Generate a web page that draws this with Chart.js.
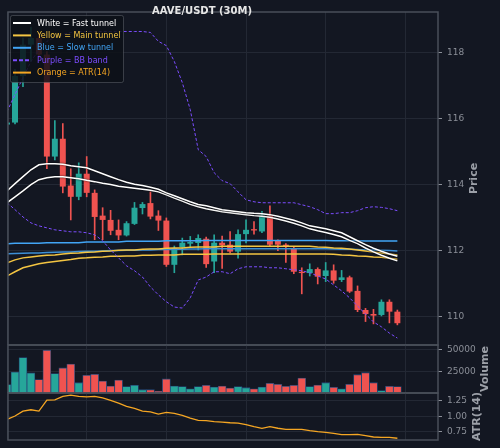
<!DOCTYPE html>
<html>
<head>
<meta charset="utf-8">
<script src="https://cdn.jsdelivr.net/npm/chart.js@4.4.0/dist/chart.umd.min.js"></script>
<style>
  html, body { margin: 0; padding: 0; background: #131722; }
  #wrap { position: relative; width: 500px; height: 448px; overflow: hidden; }
  canvas { position: absolute; left: 0; }
</style>
</head>
<body>
<div id="wrap">
  <canvas id="priceChart" width="500" height="357" style="top:0"></canvas>
  <canvas id="volumeChart" width="500" height="72" style="top:333px"></canvas>
  <canvas id="atrChart" width="500" height="71" style="top:381px"></canvas>
</div>
<script>
// candles (30 minute bars)
const opens = [115.83,115.89,117.30,118.25,118.45,117.95,114.86,115.40,113.98,113.64,
  114.34,113.76,113.07,112.94,112.64,112.47,112.82,113.30,113.45,113.07,
  112.92,111.58,112.11,112.22,112.24,112.37,111.68,112.25,112.19,111.98,
  112.51,112.66,112.59,113.07,112.31,112.19,112.09,111.37,111.33,111.45,
  111.24,111.41,111.12,111.20,110.79,110.21,110.09,110.06,110.46,110.16];
const highs = [115.93,117.50,118.45,118.78,118.60,118.04,115.95,115.86,114.49,114.67,
  114.86,113.85,113.31,113.23,112.94,112.89,113.47,113.47,113.79,113.22,
  113.00,112.15,112.39,112.44,112.49,112.42,112.49,112.45,112.59,112.64,
  112.94,112.89,113.20,113.37,112.34,112.22,112.12,111.49,111.61,111.49,
  111.65,111.58,111.41,111.24,110.94,110.26,110.23,110.52,110.52,110.21];
const lows = [115.78,115.85,116.98,117.75,117.85,114.49,114.76,113.76,112.94,113.55,
  113.64,112.34,112.34,112.49,112.34,112.45,112.80,113.12,112.97,112.62,
  111.53,111.34,111.88,112.13,112.03,111.50,111.34,111.47,111.94,111.78,
  112.24,112.51,112.55,112.15,112.01,111.65,111.31,110.70,111.24,111.00,
  111.07,111.02,111.07,110.74,110.16,109.86,109.79,110.03,109.82,109.76];
const closes = [115.89,117.30,118.25,118.45,117.95,114.86,115.40,113.95,113.64,114.34,
  113.76,113.03,112.94,112.61,112.47,112.84,113.31,113.42,113.04,112.92,
  111.58,112.09,112.25,112.27,112.39,111.60,112.25,112.17,111.98,112.51,
  112.64,112.62,113.07,112.19,112.19,112.12,111.37,111.33,111.45,111.22,
  111.41,111.10,111.20,110.77,110.21,110.09,110.04,110.46,110.16,109.81];
const volumes = [9600,24000,40500,23000,15300,48900,22200,28700,33200,11800,
  20200,21400,13800,8000,14900,7300,8800,3800,3800,2300,
  16100,8000,7300,4900,7300,8800,6900,8000,5700,7300,
  6100,4900,6900,11000,10000,7700,8800,17200,7300,9200,
  11800,6500,4900,10000,21000,23300,11800,2700,7700,7300];
const atr = [0.952,1.005,1.084,1.105,1.084,1.26,1.264,1.32,1.34,1.318,
  1.31,1.32,1.296,1.255,1.212,1.16,1.127,1.084,1.073,1.037,
  1.063,1.047,1.015,0.973,0.936,0.93,0.914,0.909,0.898,0.893,
  0.866,0.835,0.809,0.835,0.81,0.793,0.793,0.793,0.771,0.755,
  0.745,0.729,0.707,0.707,0.713,0.691,0.67,0.665,0.665,0.65];

// tunnels and bands
const fastHigh = [113.82,114.04,114.25,114.46,114.61,114.64,114.64,114.63,114.58,114.55,
  114.52,114.43,114.34,114.25,114.16,114.08,114.02,113.98,113.93,113.87,
  113.76,113.67,113.58,113.49,113.41,113.37,113.31,113.25,113.22,113.19,
  113.16,113.14,113.13,113.10,113.05,112.99,112.93,112.85,112.76,112.72,
  112.67,112.61,112.55,112.43,112.31,112.19,112.08,111.99,111.91,111.84];
const fastLow = [113.46,113.64,113.82,114.01,114.16,114.22,114.25,114.25,114.22,114.19,
  114.14,114.10,114.05,114.01,113.96,113.93,113.90,113.87,113.84,113.79,
  113.70,113.60,113.51,113.41,113.34,113.28,113.23,113.19,113.16,113.13,
  113.10,113.07,113.05,113.02,112.97,112.91,112.84,112.76,112.67,112.61,
  112.56,112.50,112.43,112.32,112.22,112.09,111.97,111.87,111.78,111.70];
const mainHigh = [111.64,111.73,111.79,111.82,111.85,111.87,111.88,111.91,111.93,111.94,
  111.96,111.97,111.99,112.00,112.02,112.03,112.03,112.05,112.06,112.06,
  112.08,112.09,112.09,112.11,112.12,112.12,112.12,112.14,112.14,112.14,
  112.14,112.14,112.14,112.14,112.14,112.14,112.14,112.14,112.14,112.12,
  112.11,112.09,112.08,112.06,112.03,112.00,111.97,111.94,111.91,111.88];
const mainLow = [111.24,111.37,111.49,111.55,111.61,111.65,111.68,111.71,111.74,111.78,
  111.79,111.81,111.82,111.84,111.84,111.85,111.85,111.87,111.87,111.88,
  111.88,111.88,111.90,111.90,111.90,111.90,111.91,111.91,111.91,111.91,
  111.91,111.91,111.91,111.91,111.91,111.91,111.91,111.91,111.91,111.91,
  111.91,111.90,111.88,111.87,111.85,111.84,111.82,111.81,111.78,111.75];
const slowHigh = [112.22,112.23,112.23,112.23,112.23,112.25,112.25,112.25,112.25,112.25,
  112.27,112.27,112.27,112.27,112.27,112.29,112.29,112.29,112.29,112.29,
  112.31,112.31,112.31,112.31,112.31,112.32,112.32,112.32,112.32,112.32,
  112.32,112.32,112.32,112.32,112.32,112.32,112.32,112.32,112.32,112.32,
  112.32,112.31,112.31,112.31,112.31,112.30,112.30,112.30,112.30,112.30];
const slowLow = [111.91,111.92,111.93,111.94,111.94,111.95,111.96,111.97,111.97,111.98,
  111.99,111.99,112.00,112.01,112.01,112.02,112.02,112.03,112.03,112.04,
  112.04,112.05,112.05,112.06,112.06,112.07,112.07,112.07,112.07,112.07,
  112.07,112.07,112.07,112.07,112.07,112.07,112.07,112.07,112.07,112.07,
  112.07,112.06,112.05,112.05,112.04,112.03,112.03,112.02,112.01,112.00];
const bbUpper = [116.22,116.74,117.25,117.74,118.10,118.35,118.47,118.56,118.62,118.65,
  118.65,118.65,118.65,118.65,118.65,118.65,118.65,118.65,118.62,118.35,
  118.22,117.74,117.10,116.28,115.07,114.86,114.37,114.13,114.04,113.79,
  113.55,113.49,113.46,113.46,113.46,113.46,113.46,113.40,113.34,113.25,
  113.13,113.13,113.16,113.16,113.22,113.31,113.34,113.32,113.28,113.22];
const bbLower = [113.46,113.25,113.03,112.85,112.76,112.70,112.64,112.61,112.58,112.58,
  112.55,112.49,112.31,112.03,111.79,111.55,111.40,111.21,110.91,110.67,
  110.46,110.30,110.27,110.58,111.12,111.21,111.37,111.37,111.31,111.46,
  111.52,111.52,111.52,111.49,111.49,111.46,111.43,111.40,111.34,111.24,
  111.15,110.97,110.79,110.58,110.33,110.09,109.85,109.70,109.51,109.36];

// axis ticks
const xGrid = [0, 10, 20, 30, 40, 50];
const priceTicks = [110, 112, 114, 116, 118];
const volumeTicks = [25000, 50000];
const atrTicks = [0.75, 1.00, 1.25];

const titleText = 'AAVE/USDT (30M)';
const legendItems = [
  { text: 'White = Fast tunnel', color: '#ffffff', dash: [] },
  { text: 'Yellow = Main tunnel', color: '#f4c542', dash: [] },
  { text: 'Blue = Slow tunnel', color: '#42a5f5', dash: [] },
  { text: 'Purple = BB band', color: '#7c4dff', dash: [4, 2] },
  { text: 'Orange = ATR(14)', color: '#f5a623', dash: [] }
];

const up = '#26a69a', down = '#ef5350';
const gridColor = '#232834';
const frameColor = '#4a4f5a';
const tickColor = '#8b8f98';
const FONT = 'DejaVu Sans';

const idx = closes.map((_, i) => i);
const pts = arr => arr.map((v, i) => ({ x: i, y: v }));
const candleColors = idx.map(i => closes[i] >= opens[i] ? up : down);

// shared x axis
function xAxis() {
  return {
    type: 'linear', min: 0.12, max: 54.1, offset: false,
    afterBuildTicks: s => { s.ticks = xGrid.map(v => ({ value: v })); },
    afterFit: s => { s.height = 0; },
    ticks: { display: false },
    grid: { color: gridColor, drawTicks: false, offset: false },
    border: { display: false }
  };
}
function yAxis(min, max, ticks, fmt) {
  return {
    position: 'right', min: min, max: max,
    afterBuildTicks: s => { s.ticks = ticks.map(v => ({ value: v })); },
    afterFit: s => { s.width = 62; },
    ticks: { color: tickColor, font: { family: FONT, size: 9 }, padding: 5, callback: fmt },
    grid: { color: gridColor, tickColor: tickColor, tickLength: 4 },
    border: { display: false }
  };
}

const framePlugin = {
  id: 'frame',
  afterDraw(chart, args, opts) {
    const { ctx, chartArea: a } = chart;
    ctx.save();
    ctx.strokeStyle = frameColor;
    ctx.lineWidth = 1.5;
    ctx.strokeRect(a.left, a.top, a.right - a.left, a.bottom - a.top);
    // rotated axis title, reading bottom to top
    const y = chart.scales.y;
    ctx.font = '9px ' + FONT;
    const widest = Math.max(...y.ticks.map(t => ctx.measureText(y.options.ticks.callback(t.value)).width));
    ctx.translate(a.right + 9 + widest + 10, (a.top + a.bottom) / 2);
    ctx.rotate(-Math.PI / 2);
    ctx.fillStyle = '#9ca0a8';
    ctx.font = 'bold 11px ' + FONT;
    ctx.textAlign = 'center';
    ctx.textBaseline = 'middle';
    ctx.fillText(opts.title, 0, 0);
    ctx.restore();
  }
};

const haloPlugin = {
  id: 'halo',
  beforeDatasetDraw(chart, args) {
    if (chart.data.datasets[args.index].halo) {
      chart.ctx.save();
      chart.ctx.shadowColor = 'rgba(0,0,0,0.9)';
      chart.ctx.shadowBlur = 2;
    }
  },
  afterDatasetDraw(chart, args) {
    if (chart.data.datasets[args.index].halo) chart.ctx.restore();
  }
};

const headerPlugin = {
  id: 'header',
  afterDraw(chart) {
    const ctx = chart.ctx;
    ctx.save();
    ctx.font = 'bold 10px ' + FONT;
    ctx.fillStyle = '#e6e6e6';
    ctx.textAlign = 'center';
    ctx.textBaseline = 'middle';
    ctx.fillText(titleText, 202, 11);

    // legend box
    ctx.fillStyle = 'rgba(13,16,23,0.85)';
    ctx.strokeStyle = 'rgba(110,115,125,0.45)';
    ctx.lineWidth = 1;
    ctx.beginPath();
    ctx.roundRect(10.5, 15.5, 113, 67, 2);
    ctx.fill();
    ctx.stroke();
    ctx.font = '8px ' + FONT;
    ctx.textAlign = 'left';
    legendItems.forEach((it, i) => {
      const ly = 23 + i * 12.4;
      ctx.strokeStyle = it.color;
      ctx.lineWidth = 2;
      ctx.setLineDash(it.dash);
      ctx.beginPath();
      ctx.moveTo(13, ly);
      ctx.lineTo(31, ly);
      ctx.stroke();
      ctx.setLineDash([]);
      ctx.fillStyle = it.color;
      ctx.fillText(it.text, 37, ly + 0.5);
    });
    ctx.restore();
  }
};

function line(label, arr, color, width, order, extra) {
  return Object.assign({
    type: 'line', label: label, data: pts(arr), borderColor: color, borderWidth: width,
    pointRadius: 0, tension: 0, fill: false, order: order
  }, extra || {});
}

const common = {
  responsive: false,
  devicePixelRatio: 1,
  animation: false,
  events: [],
  plugins: { legend: { display: false }, tooltip: { enabled: false } }
};
const pad = { left: 8, right: 0, top: 12, bottom: 12 };

// price panel
new Chart(document.getElementById('priceChart'), {
  type: 'bar',
  data: {
    datasets: [
      line('BB upper', bbUpper, '#7c4dff', 1, 2, { borderDash: [3, 2] }),
      line('BB lower', bbLower, '#7c4dff', 1, 2, { borderDash: [3, 2] }),
      line('Fast high', fastHigh, '#ffffff', 1.5, 3, { halo: true }),
      line('Fast low', fastLow, '#ffffff', 1.5, 3, { halo: true }),
      line('Main high', mainHigh, '#f4c542', 1.5, 4),
      line('Main low', mainLow, '#f4c542', 1.5, 4),
      line('Slow high', slowHigh, '#42a5f5', 1.5, 5),
      line('Slow low', slowLow, '#3d8fd6', 1.5, 5),
      {
        label: 'Body', order: 9, grouped: false,
        data: idx.map(i => ({ x: i, y: [opens[i], closes[i]] })),
        backgroundColor: candleColors, borderWidth: 0, minBarLength: 1,
        barPercentage: 0.75, categoryPercentage: 1
      },
      {
        label: 'Wick', order: 10, grouped: false,
        data: idx.map(i => ({ x: i, y: [lows[i], highs[i]] })),
        backgroundColor: candleColors, borderWidth: 0, barThickness: 1
      }
    ]
  },
  options: Object.assign({}, common, {
    layout: { padding: pad },
    scales: { x: xAxis(), y: yAxis(109.15, 119.24, priceTicks, v => String(v)) },
    plugins: Object.assign({}, common.plugins, { frame: { title: 'Price' } })
  }),
  plugins: [haloPlugin, framePlugin, headerPlugin]
});

// volume panel
new Chart(document.getElementById('volumeChart'), {
  type: 'bar',
  data: {
    datasets: [{
      label: 'Volume', grouped: false,
      data: idx.map(i => ({ x: i, y: volumes[i] })),
      backgroundColor: candleColors, borderColor: 'rgba(40,78,128,0.95)', borderWidth: 0.8,
      barPercentage: 1, categoryPercentage: 1
    }]
  },
  options: Object.assign({}, common, {
    layout: { padding: pad },
    scales: { x: xAxis(), y: yAxis(0, 55000, volumeTicks, v => String(v)) },
    plugins: Object.assign({}, common.plugins, { frame: { title: 'Volume' } })
  }),
  plugins: [framePlugin]
});

// ATR panel
new Chart(document.getElementById('atrChart'), {
  type: 'line',
  data: {
    datasets: [line('ATR(14)', atr, '#f5a623', 1.3, 1)]
  },
  options: Object.assign({}, common, {
    layout: { padding: pad },
    scales: { x: xAxis(), y: yAxis(0.622, 1.373, atrTicks, v => v.toFixed(2)) },
    plugins: Object.assign({}, common.plugins, { frame: { title: 'ATR(14)' } })
  }),
  plugins: [framePlugin]
});
</script>
</body>
</html>
